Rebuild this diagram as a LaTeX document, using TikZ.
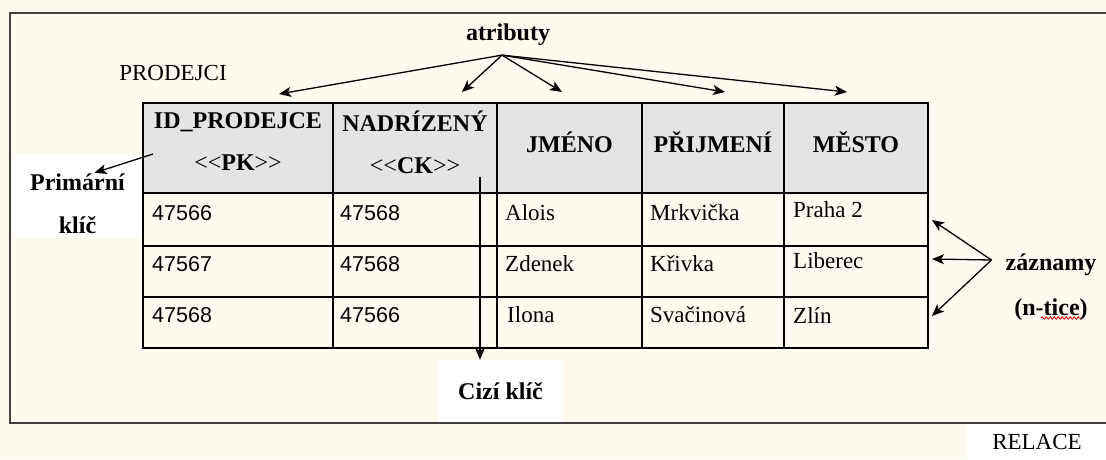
\documentclass[tikz,border=0pt]{standalone}
\usepackage{fontspec}
\setmainfont{Liberation Serif}
\newfontfamily\numfont{Liberation Sans}
\usetikzlibrary{positioning,arrows.meta,decorations.pathmorphing}

\definecolor{bgcream}{RGB}{255,250,240}
\definecolor{hdrgray}{RGB}{228,228,228}
\definecolor{framegray}{RGB}{64,64,64}

\begin{document}
\begin{tikzpicture}[
      x=1pt, y=-1pt,
      every node/.style={
        align=center, inner sep=2pt
      },
      >={Stealth[length=12pt,width=10pt,inset=3pt]},
      hdrcell/.style={draw, line width=2pt, fill=hdrgray, minimum height=90pt, inner sep=0pt},
      hdrtext/.style={font=\bfseries\fontsize{24}{29}\selectfont},
      lbl/.style={font=\bfseries\fontsize{24}{29}\selectfont},
      whitebox/.style={fill=white, inner sep=0pt},
      celltext/.style={anchor=west, inner sep=0pt, font=\fontsize{23}{28}\selectfont},
      numtext/.style={anchor=west, inner sep=0pt, font=\numfont\fontsize{21.5}{26}\selectfont},
      arr/.style={->, line width=1.3pt}
    ]
    \useasboundingbox (0,0) rectangle (1106,459);
    \fill[bgcream] (0,0) rectangle (1106,459);
    \draw[framegray, line width=1.8pt] (1110,13) -- (10,13) -- (10,423) -- (1110,423);

    % Labels round the table
    \node[font=\fontsize{23}{28}\selectfont] (prod) at (173,73) {PRODEJCI};
    \node[lbl] (atr) at (508,35) {atributy};
    \node[lbl, whitebox, minimum width=131pt, minimum height=84pt] (prim) at (77.5,196) {\rule{0pt}{32pt}Primární\\[14pt]klíč};
    \node[lbl, whitebox, minimum width=125pt, minimum height=62pt] (cizi) at (500.5,391) {Cizí klíč};
    \node[lbl] (zazn) at (1051,287) {záznamy\\[16pt](n-tice)};
    \node[whitebox, minimum width=140pt, minimum height=36pt, font=\fontsize{23}{28}\selectfont] (rel) at (1037,442) {RELACE};

    % Header row
    \node[hdrcell, minimum width=190pt] (hid) at (238,148) {};
    \node[hdrcell, minimum width=164pt] (hnad) at (415,148) {};
    \node[hdrcell, minimum width=145pt] (hjm) at (569.5,148) {};
    \node[hdrcell, minimum width=142pt] (hpr) at (713,148) {};
    \node[hdrcell, minimum width=144pt] (hme) at (856,148) {};

    \node[hdrtext] (tid) at ([yshift=6pt]hid.center) {ID\_PRODEJCE\\[13pt]{\mdseries<{}<}PK{\mdseries>{}>}};
    \node[hdrtext] (tnad) at ([yshift=6pt]hnad.center) {NADRÍZENÝ\\[13pt]{\mdseries<{}<}CK{\mdseries>{}>}};
    \node[hdrtext] (tjm) at ([yshift=6pt]hjm.center) {JMÉNO};
    \node[hdrtext] (tpr) at ([yshift=6pt]hpr.center) {PŘIJMENÍ};
    \node[hdrtext] (tme) at ([yshift=6pt]hme.center) {MĚSTO};

    % Data grid
    \draw[line width=1.2pt] (143,246) -- (928,246) (143,297) -- (928,297);
    \draw[line width=1.6pt] (333,193) -- (333,348) (497,193) -- (497,348)
      (642,193) -- (642,348) (784,193) -- (784,348);
    \draw[line width=2.8pt] (143,103) rectangle (928,348);
    \draw[line width=2.8pt] (143,193) -- (928,193);

    % Row 1
    \node[numtext] (id1) at (152,213) {47566};
    \node[numtext] (nad1) at (340,213) {47568};
    \node[celltext] (jm1) at (505,213) {Alois};
    \node[celltext] (pr1) at (650,213) {Mrkvička};
    \node[celltext] (me1) at (793,210) {Praha 2};

    % Row 2
    \node[numtext] (id2) at (152,264) {47567};
    \node[numtext] (nad2) at (340,264) {47568};
    \node[celltext] (jm2) at (505,264) {Zdenek};
    \node[celltext] (pr2) at (650,264) {Křivka};
    \node[celltext] (me2) at (793,261) {Liberec};

    % Row 3
    \node[numtext] (id3) at (152,315) {47568};
    \node[numtext] (nad3) at (340,315) {47566};
    \node[celltext] (jm3) at (507,315) {Ilona};
    \node[celltext] (pr3) at (650,315) {Svačinová};
    \node[celltext] (me3) at (793,315) {Zlín};

    % Attribute arrows
    \coordinate (fan) at ([xshift=-6pt,yshift=-7pt]atr.south);
    \draw[arr] (fan) -- ([xshift=41pt,yshift=8pt]hid.north);
    \draw[arr] (fan) -- ([xshift=47pt,yshift=10pt]hnad.north);
    \draw[arr] (fan) -- ([xshift=-7.5pt,yshift=10pt]hjm.north);
    \draw[arr] (fan) -- ([xshift=12pt,yshift=10pt]hpr.north);
    \draw[arr] (fan) -- ([xshift=-9pt,yshift=10pt]hme.north);

    % Keys
    \draw[arr] ([xshift=-85pt,yshift=-6pt]hid.center) -- ([xshift=17pt,yshift=-19pt]prim.north);
    \draw[arr] ([xshift=65pt,yshift=-29pt]hnad.center) coordinate (fk) -- (fk |- cizi.north);

    % Record arrows
    \coordinate (zfan) at ([xshift=-12pt,yshift=27pt]zazn.west);
    \coordinate (rec1) at (932,220);
    \coordinate (rec2) at (932,259);
    \coordinate (rec3) at (932,316);
    \draw[arr] (zfan) -- (rec1);
    \draw[arr] (zfan) -- (rec2);
    \draw[arr] (zfan) -- (rec3);
    \draw[red!80!black, line width=0.8pt, decorate,
      decoration={snake, amplitude=1.2pt, segment length=4pt}] (1041,318) -- (1081,318);
  \end{tikzpicture}
\end{document}
